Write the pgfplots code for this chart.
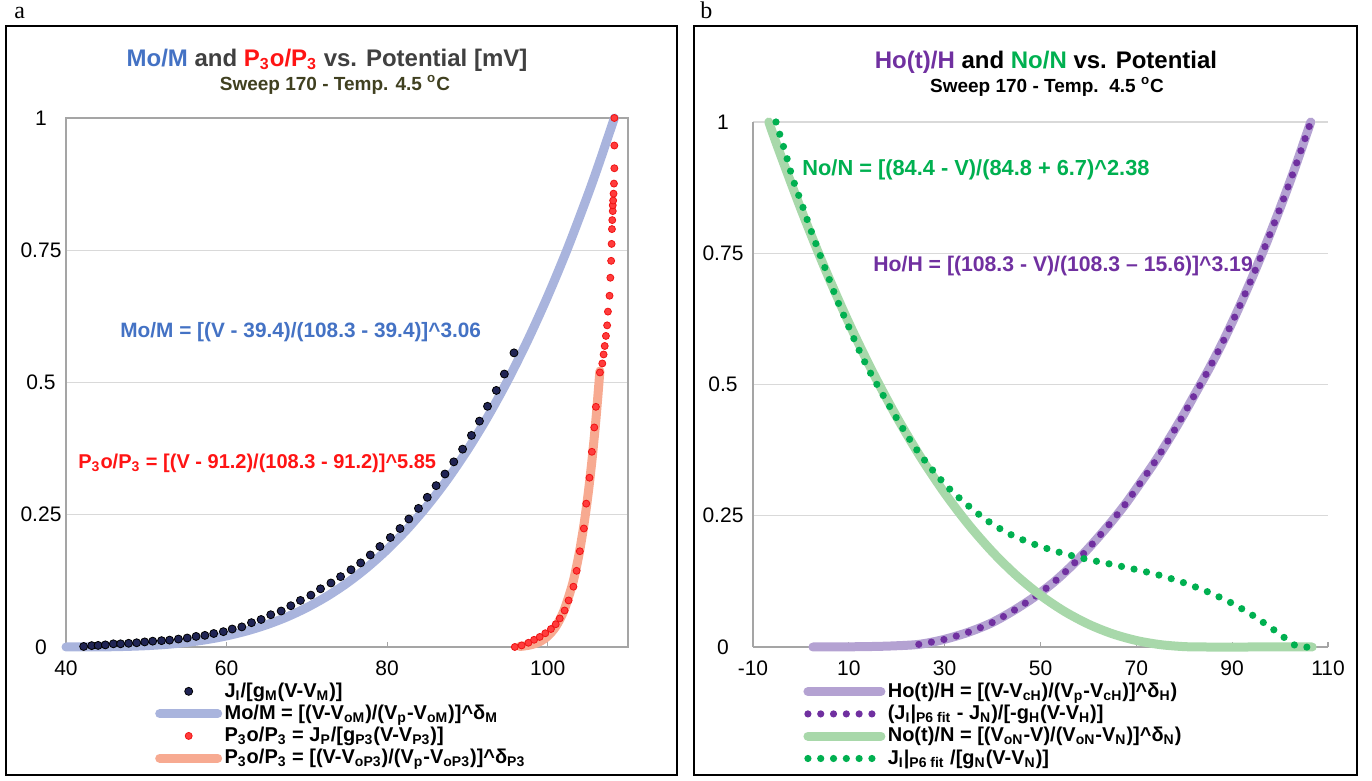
\documentclass[border=0pt]{standalone}
\usepackage{pgfplots}
\pgfplotsset{compat=1.18}
\usepackage{fontspec}
\setmainfont{Liberation Sans}
\newfontfamily\serifletter{Liberation Serif}
\definecolor{moblue}{RGB}{68,114,196}
\definecolor{pred}{RGB}{255,20,20}
\definecolor{bluefit}{RGB}{169,180,221}
\definecolor{navy}{RGB}{32,36,84}
\definecolor{reddot}{RGB}{255,60,60}
\definecolor{reddraw}{RGB}{240,20,20}
\definecolor{salmon}{RGB}{247,170,145}
\definecolor{hpurple}{RGB}{112,48,160}
\definecolor{purplefit}{RGB}{180,162,210}
\definecolor{ngreen}{RGB}{0,176,80}
\definecolor{greenfit}{RGB}{168,216,170}
\definecolor{olive}{RGB}{64,64,32}
\definecolor{titlegray}{RGB}{64,64,64}
\definecolor{gridgray}{RGB}{217,217,217}
\definecolor{axisgray}{RGB}{165,165,165}
\begin{document}
\begin{tikzpicture}
\useasboundingbox (0,0) rectangle (686pt,390.5pt);
\draw[line width=1pt] (3pt,3pt) rectangle (338.5pt,377.5pt);
\draw[line width=1pt] (347pt,3pt) rectangle (678.5pt,377.5pt);
\node[anchor=base west, inner sep=0pt, font=\serifletter\fontsize{12}{14}\selectfont] at (7pt,381pt) {a};
\node[anchor=base west, inner sep=0pt, font=\serifletter\fontsize{12}{14}\selectfont] at (350pt,381pt) {b};

% ---------------- panel a ----------------
\begin{axis}[
  at={(33pt,67pt)}, anchor=south west, scale only axis,
  width=281pt, height=264.5pt,
  xmin=40, xmax=110, ymin=0, ymax=1, clip=false,
  xtick={40,60,80,100}, xticklabels={40,60,80,100},
  ytick={0,0.25,0.5,0.75,1}, yticklabels={0,0.25,0.5,0.75,1},
  ymajorgrids, grid style={color=gridgray, line width=0.6pt},
  axis line style={color=axisgray, line width=0.6pt},
  tickpos=left, tick align=inside, major tick length=2.5pt,
  xtick style={color=axisgray, line width=0.6pt}, ytick style={draw=none},
  tick label style={font=\fontsize{10.5}{12}\selectfont, text=black},
  xticklabel style={anchor=center, yshift=-10.5pt},
  yticklabel style={anchor=center, xshift=-12.5pt},
  legend cell align=left,
  legend style={at={(0.158,-0.062)}, anchor=north west, draw=none, fill=none,
    font=\bfseries\fontsize{10}{12}\selectfont, inner sep=0pt, row sep=0pt,
    nodes={inner sep=1.2pt}},
  legend image code/.code={\draw[mark repeat=2,mark phase=2,#1] plot coordinates {(0pt,0pt) (14.5pt,0pt) (29pt,0pt)};},
]
\addlegendimage{only marks, mark=*, mark size=2pt, mark options={fill=navy, draw=black, line width=0.4pt}}
\addlegendentry{J\textsubscript{I}/[g\textsubscript{M}(V-V\textsubscript{M})]}
\addlegendimage{bluefit, line width=4.5pt, line cap=round}
\addlegendentry{Mo/M = [(V-V\textsubscript{oM})/(V\textsubscript{p}-V\textsubscript{oM})]\textasciicircum δ\textsubscript{M}}
\addlegendimage{only marks, mark=*, mark size=1.75pt, mark options={fill=reddot, draw=reddraw, line width=0.4pt}}
\addlegendentry{P\textsubscript{3}o/P\textsubscript{3} = J\textsubscript{P}/[g\textsubscript{P3}(V-V\textsubscript{P3})]}
\addlegendimage{salmon, line width=4.5pt, line cap=round}
\addlegendentry{P\textsubscript{3}o/P\textsubscript{3} = [(V-V\textsubscript{oP3})/(V\textsubscript{p}-V\textsubscript{oP3})]\textasciicircum δ\textsubscript{P3}}

% Mo/M fit line
\addplot[forget plot, bluefit, line width=4.5pt, line cap=round, smooth] coordinates {
(40,0) (42.5,0.00005) (45,0.0003) (47.5,0.0011) (50,0.0025) (52.5,0.0049) (55,0.0086)
(57.5,0.0139) (60,0.0210) (62.5,0.0303) (65,0.0421) (67.5,0.0567) (70,0.0745)
(72.5,0.0957) (75,0.1208) (77.5,0.1502) (80,0.1841) (82.5,0.2228) (85,0.2669)
(87.5,0.3166) (90,0.3724) (92.5,0.4345) (95,0.5034) (97.5,0.5795) (100,0.6631)
(102.5,0.7546) (105,0.8546) (106.5,0.9188) (108.3,1)};
% P3o/P3 fit line
\addplot[forget plot, salmon, line width=4.5pt, line cap=round, smooth] coordinates {
(96.5,0.00106) (97,0.0018) (98,0.0045) (99,0.0101) (100,0.0205) (101,0.0385)
(102,0.0680) (103,0.1142) (103.5,0.1455) (104,0.1837) (104.5,0.2299) (105,0.2853)
(105.5,0.3513) (106,0.4294) (106.5,0.5217)};
% J_I dots
\addplot[forget plot, only marks, mark=*, mark size=2pt, mark options={fill=navy, draw=black, line width=0.4pt}] coordinates {
(42.2,0.001) (43.2,0.0026) (44.0,0.003) (44.9,0.004) (45.9,0.006) (46.8,0.006)
(47.8,0.007) (48.8,0.008) (49.8,0.0096) (50.8,0.011) (51.9,0.012) (52.9,0.013)
(54.0,0.015) (55.1,0.017) (56.2,0.020) (57.3,0.022) (58.4,0.0255) (59.6,0.029)
(60.7,0.034) (61.9,0.038) (63.1,0.046) (64.3,0.052) (65.5,0.061) (66.8,0.068)
(68.0,0.078) (69.2,0.088) (70.5,0.098) (71.7,0.110) (73.0,0.121) (74.2,0.133)
(75.5,0.146) (76.7,0.159) (77.9,0.174) (79.1,0.190) (80.4,0.207) (81.6,0.224)
(82.7,0.242) (83.9,0.262) (85.0,0.283) (86.1,0.305) (87.2,0.327) (88.3,0.350)
(89.4,0.374) (90.5,0.400) (91.5,0.427) (92.5,0.455) (93.6,0.485) (94.6,0.516)
(95.8,0.556)};
% P3 dots
\addplot[forget plot, only marks, mark=*, mark size=1.75pt, mark options={fill=reddot, draw=reddraw, line width=0.4pt}] coordinates {
(95.9,0) (96.75,0.003) (97.6,0.008) (98.3,0.0136) (99.0,0.019) (99.7,0.026)
(100.4,0.034) (101.0,0.043) (101.5,0.054) (102.1,0.069) (102.6,0.088) (103.2,0.114)
(103.6,0.144) (104.0,0.181) (104.5,0.224) (104.8,0.271) (105.2,0.320) (105.5,0.369)
(105.8,0.415) (106.0,0.454) (106.5,0.519) (106.8,0.536) (106.96,0.553) (107.1,0.569)
(107.25,0.588) (107.4,0.608) (107.5,0.634) (107.7,0.664) (107.8,0.698) (107.9,0.730)
(107.96,0.762) (108.0,0.790) (108.04,0.807) (108.1,0.824) (108.1,0.835) (108.15,0.844)
(108.2,0.857) (108.25,0.876) (108.3,0.905) (108.3,0.948) (108.3,1.0)};
\end{axis}

% ---------------- panel b ----------------
\begin{axis}[
  at={(376.5pt,67pt)}, anchor=south west, scale only axis,
  width=287.5pt, height=262.5pt,
  xmin=-10, xmax=110, ymin=0, ymax=1, clip=false,
  axis x line*=bottom, axis y line*=left,
  xtick={-10,10,30,50,70,90,110}, xticklabels={-10,10,30,50,70,90,110},
  ytick={0,0.25,0.5,0.75,1}, yticklabels={0,0.25,0.5,0.75,1},
  ymajorgrids, grid style={color=gridgray, line width=0.6pt},
  axis line style={color=axisgray, line width=0.6pt},
  tick align=inside, major tick length=2.5pt,
  xtick style={color=axisgray, line width=0.6pt}, ytick style={draw=none},
  tick label style={font=\fontsize{10.5}{12}\selectfont, text=black},
  xticklabel style={anchor=center, yshift=-10.5pt},
  yticklabel style={anchor=center, xshift=-15pt},
  legend cell align=left,
  legend style={at={(0.087,-0.063)}, anchor=north west, draw=none, fill=none,
    font=\bfseries\fontsize{10}{12}\selectfont, inner sep=0pt, row sep=0pt,
    nodes={inner sep=1.2pt}},
  legend image code/.code={\draw[#1] (0pt,0pt) -- (36.5pt,0pt);},
]
\addplot[purplefit, line width=4.5pt, line cap=round, smooth] coordinates {
(2.5,0) (8,0.0002) (14,0.0008) (19,0.002) (24.6,0.005) (29.7,0.014) (34.9,0.028)
(39.8,0.046) (44.5,0.070) (49.0,0.097) (53.1,0.126) (57.1,0.160) (60.8,0.196)
(64.4,0.234) (67.7,0.272) (70.8,0.312) (73.9,0.353) (76.7,0.394) (79.5,0.437)
(82.2,0.481) (85,0.527) (88,0.580) (91,0.638) (94,0.700) (97,0.766) (100,0.836)
(103,0.910) (106.4,1.0)};
\addlegendentry{Ho(t)/H = [(V-V\textsubscript{cH})/(V\textsubscript{p}-V\textsubscript{cH})]\textasciicircum δ\textsubscript{H})}
\addplot[hpurple, line width=3.6pt, line cap=round, dash pattern=on 0pt off 6.4pt, smooth] coordinates {
(24.6,0.005) (29.7,0.014) (34.9,0.028)
(39.8,0.046) (44.5,0.070) (49.0,0.097) (53.1,0.126) (57.1,0.160) (60.8,0.196)
(64.4,0.234) (67.7,0.272) (70.8,0.312) (73.9,0.353) (76.7,0.394) (79.5,0.437)
(82.2,0.481) (85,0.527) (88,0.580) (91,0.638) (94,0.700) (97,0.766) (100,0.836)
(103,0.910) (106.4,1.0)};
\addlegendentry{(J\textsubscript{I}|\textsubscript{P6 fit} - J\textsubscript{N})/[-g\textsubscript{H}(V-V\textsubscript{H})]}
\addplot[greenfit, line width=4.5pt, line cap=round, smooth] coordinates {
(-6.7,1.0) (-5,0.956) (0,0.834) (5,0.721) (10,0.6175) (15,0.5234) (20,0.438)
(25,0.3613) (30,0.2931) (35,0.2330) (40,0.1808) (45,0.1360) (50,0.0985) (55,0.0678)
(60,0.0435) (65,0.0252) (70,0.0124) (75,0.0045) (80,0.0007) (84.4,0) (95,0) (106.7,0)};
\addlegendentry{No(t)/N = [(V\textsubscript{oN}-V)/(V\textsubscript{oN}-V\textsubscript{N})]\textasciicircum δ\textsubscript{N})}
\addplot[ngreen, line width=3.6pt, line cap=round, dash pattern=on 0pt off 6.4pt, smooth] coordinates {
(-5.2,1.0) (-3.1,0.937) (-1.7,0.892) (0.06,0.847) (1.8,0.801) (3.7,0.754) (5.6,0.708)
(7.5,0.662) (9.6,0.618) (11.8,0.572) (14.1,0.529) (17.5,0.474) (21.0,0.420) (23.9,0.379)
(27.2,0.340) (30.8,0.303) (34.8,0.270) (39.0,0.240) (43.6,0.215) (48.6,0.196)
(53.7,0.181) (58.75,0.169) (64.0,0.159) (69.2,0.149) (74.3,0.138) (79.4,0.124)
(84.4,0.107) (89.4,0.086) (94.0,0.062) (98.5,0.034) (100.6,0.020) (102.7,0.005)
(104.5,0) (106.7,0)};
\addlegendentry{J\textsubscript{I}|\textsubscript{P6 fit} /[g\textsubscript{N}(V-V\textsubscript{N})]}
\end{axis}

% titles and annotations
\node[font=\bfseries\fontsize{12}{14}\selectfont, text=titlegray] at (163.5pt,360.5pt)
  {\textcolor{moblue}{Mo/M} and \textcolor{pred}{P\textsubscript{3}o/P\textsubscript{3}} vs. Potential [mV]};
\node[font=\bfseries\fontsize{9.5}{11}\selectfont, text=olive] at (167.5pt,348pt)
  {Sweep 170 - Temp. 4.5 \textsuperscript{o}C};
\node[font=\bfseries\fontsize{12}{14}\selectfont, text=black] at (523pt,359.5pt)
  {\textcolor{hpurple}{Ho(t)/H} and \textcolor{ngreen}{No/N} vs. Potential};
\node[font=\bfseries\fontsize{9.5}{11}\selectfont, text=black] at (523.5pt,347pt)
  {Sweep 170 - Temp.\ \ 4.5 \textsuperscript{o}C};
\node[anchor=west, inner sep=0pt, font=\bfseries\fontsize{10.4}{12}\selectfont, text=moblue] at (60pt,224.5pt)
  {Mo/M = [(V - 39.4)/(108.3 - 39.4)]\textasciicircum 3.06};
\node[anchor=west, inner sep=0pt, font=\bfseries\fontsize{10}{12}\selectfont, text=pred] at (39pt,159pt)
  {P\textsubscript{3}o/P\textsubscript{3} = [(V - 91.2)/(108.3 - 91.2)]\textasciicircum 5.85};
\node[anchor=west, inner sep=0pt, font=\bfseries\fontsize{10.9}{12}\selectfont, text=ngreen] at (401pt,305.5pt)
  {No/N = [(84.4 - V)/(84.8 + 6.7)\textasciicircum 2.38};
\node[anchor=west, inner sep=0pt, font=\bfseries\fontsize{10.6}{12}\selectfont, text=hpurple] at (436.5pt,257.5pt)
  {Ho/H = [(108.3 - V)/(108.3 -- 15.6)]\textasciicircum 3.19};
\end{tikzpicture}
\end{document}
